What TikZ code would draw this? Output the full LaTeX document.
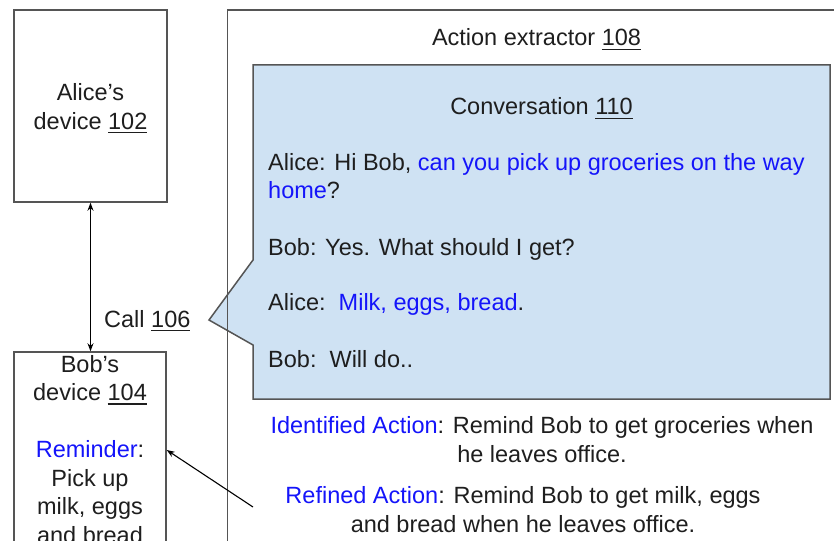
\documentclass[tikz,border=0pt]{standalone}
\usepackage{fontspec}
\setmainfont{Liberation Sans}
\usetikzlibrary{arrows.meta}

\definecolor{msgblue}{RGB}{20,20,250}
\definecolor{bubble}{RGB}{207,226,243}
\definecolor{frame}{RGB}{85,85,85}
\definecolor{ink}{RGB}{30,30,30}

% underlined reference numeral
\newcommand{\refnum}[1]{\setbox0\hbox{#1}\rlap{\rule[-4pt]{\wd0}{1.3pt}}\box0}
\newcommand{\hl}[1]{\textcolor{msgblue}{#1}}

% multi-line text nodes are placed by the baseline of their last line
\tikzset{
  txt/.style={font=\fontsize{23.5}{28.5}\selectfont, text=ink, inner sep=0pt, anchor=base, align=center},
  msg/.style={txt, anchor=base west, align=left, font=\fontsize{23.5}{28}\selectfont},
  box/.style={draw=frame, line width=1.5pt, inner sep=0pt},
  link/.style={line width=1.1pt, -{Stealth[length=8pt,width=6pt]}},
}

\begin{document}
\begin{tikzpicture}[x=1pt,y=-1pt]
\useasboundingbox (0,0) rectangle (834,540);
\clip (0,0) rectangle (834,540);

% devices
\node[box, minimum width=153pt, minimum height=192pt] (alice) at (90.5,106) {};
\node[box, minimum width=152pt, minimum height=248pt] (bob) at (90,476) {};

% conversation bubble with its pointer towards the call
\fill[bubble] (253,65) -- (830,65) -- (830,399) -- (253,399) -- (253,345)
  -- (209,320) -- (253,260) -- cycle;
\draw[frame, line width=1.5pt, line join=miter] (253,65) -- (830,65) -- (830,399) -- (253,399) -- (253,345)
  -- (209,320) -- (253,260) -- cycle;

% action extractor frame
\node[box, minimum width=618.5pt, minimum height=590pt] (extractor) at (536.75,305) {};

% labels
\node[txt] (alicelbl) at (90.5,129.5) {Alice’s\\device \refnum{102}};
\node[txt] (boblbl) at (90,543) {Bob’s\\device \refnum{104}\\\mbox{}\\\hl{Reminder}:\\Pick up\\milk, eggs\\and bread};
\node[txt, anchor=base west] (call) at (104,327) {Call \refnum{106}};
\node[txt] (extlbl) at (536.5,46) {Action extractor \refnum{108}};
\node[txt] (convlbl) at (541.5,115) {Conversation \refnum{110}};

% conversation lines
\node[msg] (m1) at (268,198) {Alice: Hi Bob, \hl{can you pick up groceries on the way}\\\hl{home}?};
\node[msg] (m2) at (268,255) {Bob: Yes. What should I get?};
\node[msg] (m3) at (268,310) {Alice:\ \ \hl{Milk, eggs, bread}.};
\node[msg] (m4) at (268,367) {Bob:\ \ Will do..};

% extracted actions
\node[txt, font=\fontsize{23.5}{29}\selectfont] (ident) at (542,462) {\hl{Identified Action}: Remind Bob to get groceries when\\he leaves office.};
\node[txt, font=\fontsize{23.5}{29}\selectfont] (refined) at (523,532) {\hl{Refined Action}: Remind Bob to get milk, eggs\\and bread when he leaves office.};

% connectors
\draw[link, {Stealth[length=8pt,width=6pt]}-{Stealth[length=8pt,width=6pt]}]
  (alice.south) -- (alice.south |- bob.north);
\coordinate (src) at (253,507);
\coordinate (tipy) at (0,450);
\draw[link] (src) -- (bob.east |- tipy);
\end{tikzpicture}
\end{document}
